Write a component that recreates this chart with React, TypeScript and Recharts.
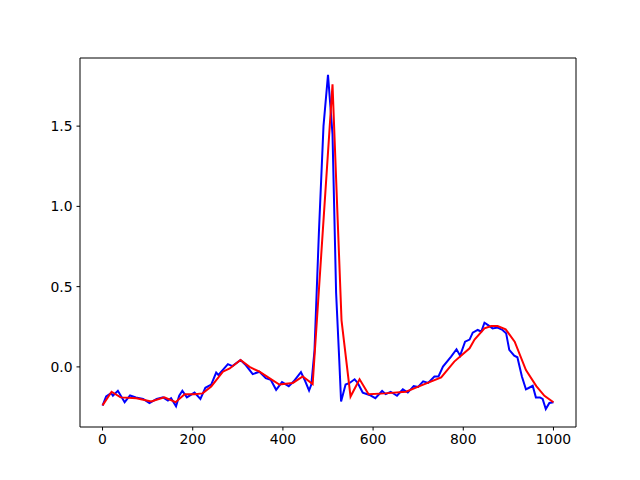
import React from 'react';
import { LineChart, Line, XAxis, YAxis, ReferenceLine } from 'recharts';

// noisy signal (blue)
const blueX = [
  0, 8, 19, 23, 34, 49, 61, 74, 90, 104, 120, 134, 145, 152, 163, 170, 177, 187, 204, 217,
  228, 241, 252, 257, 278, 288, 306, 318, 333, 348, 362, 373, 385, 398, 413, 424, 440, 448, 458, 463,
  470, 480, 490, 500, 510, 518, 525, 529, 539, 548, 559, 566, 577, 592, 605, 620, 628, 639, 653, 666,
  677, 690, 700, 711, 722, 736, 745, 755, 773, 785, 793, 804, 814, 821, 832, 840, 847, 855, 865, 876,
  887, 895, 902, 913, 920, 930, 939, 946, 954, 961, 970, 976, 983, 991, 1000,
];
const blueY = [
  -0.242, -0.184, -0.163, -0.18, -0.149, -0.22, -0.178, -0.19, -0.2, -0.226, -0.2, -0.19, -0.21, -0.195, -0.246, -0.18, -0.149, -0.19, -0.16, -0.2,
  -0.13, -0.11, -0.035, -0.05, 0.017, 0.005, 0.043, 0.01, -0.045, -0.03, -0.07, -0.08, -0.143, -0.095, -0.12, -0.09, -0.033, -0.08, -0.147, -0.11,
  0.1, 0.85, 1.5, 1.82, 1.45, 0.46, 0.04, -0.215, -0.11, -0.1, -0.077, -0.1, -0.16, -0.175, -0.195, -0.15, -0.17, -0.155, -0.18, -0.14,
  -0.16, -0.12, -0.125, -0.09, -0.1, -0.06, -0.06, 0.002, 0.064, 0.11, 0.07, 0.157, 0.17, 0.213, 0.23, 0.22, 0.275, 0.26, 0.24, 0.245,
  0.23, 0.21, 0.106, 0.07, 0.06, -0.06, -0.14, -0.13, -0.118, -0.19, -0.19, -0.2, -0.263, -0.225, -0.22,
];

// smoothed signal (red)
const redX = [
  0, 20, 40, 75, 108, 137, 162, 182, 204, 222, 241, 267, 282, 306, 326, 348, 370, 392, 422, 444,
  466, 510, 530, 550, 570, 590, 626, 673, 703, 751, 780, 814, 825, 847, 862, 876, 894, 914, 939, 962,
  980, 1000,
];
const redY = [
  -0.24, -0.155, -0.19, -0.195, -0.215, -0.19, -0.22, -0.17, -0.17, -0.165, -0.122, -0.03, -0.01, 0.043, 0.0, -0.03, -0.07, -0.11, -0.1, -0.06,
  -0.107, 1.76, 0.29, -0.185, -0.077, -0.17, -0.165, -0.155, -0.12, -0.065, 0.033, 0.116, 0.17, 0.24, 0.255, 0.255, 0.234, 0.157, -0.02, -0.12,
  -0.18, -0.22,
];

const xTicks = [0, 200, 400, 600, 800, 1000];
const yTicks = [0, 0.5, 1.0, 1.5];

const xDomain = [-50, 1050];
const yDomain = [-0.3745, 1.9245];

const blueData = blueX.map((x, i) => ({ x, y: blueY[i] }));
const redData = redX.map((x, i) => ({ x, y: redY[i] }));

const tickStyle = { fill: '#000', fontSize: 13.9, fontFamily: 'DejaVu Sans' };

export default function App() {
  return (
    <div style={{ position: 'absolute', left: 0, top: 0, background: '#fff' }}>
      <LineChart width={640} height={480} margin={{ top: 58, right: 64, left: 0, bottom: 0 }}>
        <XAxis
          dataKey="x"
          type="number"
          domain={xDomain}
          ticks={xTicks}
          allowDataOverflow
          height={53}
          tick={tickStyle}
          tickSize={3.5}
          tickMargin={4}
          tickLine={{ stroke: '#000' }}
          axisLine={{ stroke: '#000' }}
        />
        <YAxis
          type="number"
          domain={yDomain}
          ticks={yTicks}
          allowDataOverflow
          width={80}
          tick={tickStyle}
          tickSize={3.5}
          tickMargin={4}
          tickFormatter={(v: number) => v.toFixed(1)}
          tickLine={{ stroke: '#000' }}
          axisLine={{ stroke: '#000' }}
        />
        <ReferenceLine y={yDomain[1]} stroke="#000" ifOverflow="visible" />
        <ReferenceLine x={xDomain[1]} stroke="#000" ifOverflow="visible" />
        <Line
          data={blueData}
          dataKey="y"
          type="linear"
          stroke="#0000ff"
          strokeWidth={2}
          dot={false}
          isAnimationActive={false}
        />
        <Line
          data={redData}
          dataKey="y"
          type="linear"
          stroke="#ff0000"
          strokeWidth={2}
          dot={false}
          isAnimationActive={false}
        />
      </LineChart>
    </div>
  );
}
